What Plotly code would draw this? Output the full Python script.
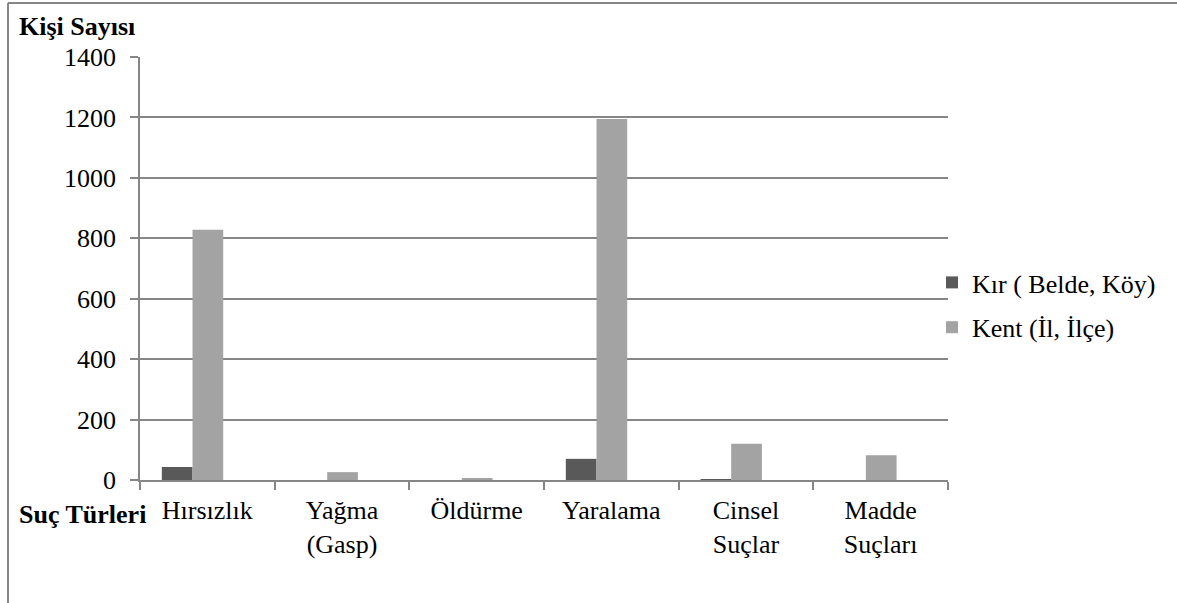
import plotly.graph_objects as go

categories = ["Hırsızlık", "Yağma<br>(Gasp)", "Öldürme", "Yaralama", "Cinsel<br>Suçlar", "Madde<br>Suçları"]
kir_values = [43, 0, 0, 70, 3, 0]
kent_values = [828, 26, 4, 1195, 120, 82]
series_names = ["Kır ( Belde, Köy)", "Kent (İl, İlçe)"]
y_ticks = [0, 200, 400, 600, 800, 1000, 1200, 1400]

FONT = "Times New Roman"
W, H = 1177, 603
PL, PR, PT, PB = 140, 948, 57, 480
L, T, R, B = PL, PT, W - PR, H - PB
PW, PH = PR - PL, PB - PT


def px_x(p):
    return (p - PL) / PW


def px_y(p):
    return (PB - p) / PH


fig = go.Figure()
fig.add_trace(go.Bar(
    x=categories, y=kir_values, name=series_names[0],
    offset=-0.338, width=0.228,
    marker=dict(color="#595959", line=dict(width=0)),
    legendgroup="a",
))
fig.add_trace(go.Bar(
    x=categories, y=kent_values, name=series_names[1],
    offset=-0.11, width=0.228,
    marker=dict(color="#a3a3a3", line=dict(width=0)),
    legendgroup="b",
))

fig.update_layout(
    width=W, height=H,
    margin=dict(l=L, r=R, t=T, b=B, pad=0),
    paper_bgcolor="white", plot_bgcolor="white",
    barmode="overlay",
    font=dict(family=FONT, size=26, color="black"),
    showlegend=True,
    legend=dict(
        x=px_x(932), y=px_y(305), xanchor="left", yanchor="middle",
        font=dict(family=FONT, size=26, color="black"),
        tracegroupgap=8, itemwidth=30,
        bgcolor="rgba(0,0,0,0)",
    ),
    xaxis=dict(
        showline=True, linecolor="#868686", linewidth=1.5,
        ticks="outside", ticklen=8, tickcolor="#868686", tickwidth=1.5,
        tickson="boundaries", showgrid=False,
        tickfont=dict(family=FONT, size=26, color="black"),
        ticklabelstandoff=6,
        fixedrange=True,
    ),
    yaxis=dict(
        range=[0, 1400], tickvals=y_ticks,
        showline=True, linecolor="#868686", linewidth=1.5,
        ticks="outside", ticklen=8, tickcolor="#868686", tickwidth=1.5,
        showgrid=True, gridcolor="#868686", gridwidth=1.5,
        zeroline=False,
        tickfont=dict(family=FONT, size=26, color="black"),
        ticklabelstandoff=9,
        fixedrange=True,
    ),
    annotations=[
        dict(text="<b>Kişi Sayısı</b>", x=px_x(17), y=px_y(26), xref="paper", yref="paper",
             xanchor="left", yanchor="middle", showarrow=False,
             font=dict(family=FONT, size=26, color="black")),
        dict(text="<b>Suç Türleri</b>", x=px_x(17), y=px_y(514), xref="paper", yref="paper",
             xanchor="left", yanchor="middle", showarrow=False,
             font=dict(family=FONT, size=26, color="black")),
    ],
    shapes=[
        dict(type="line", xref="paper", yref="paper",
             x0=px_x(8), x1=px_x(1177), y0=px_y(3), y1=px_y(3),
             line=dict(color="#868686", width=2)),
        dict(type="line", xref="paper", yref="paper",
             x0=px_x(8), x1=px_x(8), y0=px_y(3), y1=px_y(603),
             line=dict(color="#868686", width=2)),
    ],
)

fig.write_html("out.html", config={"displayModeBar": False},
               post_script="document.body.style.margin='0px';")
